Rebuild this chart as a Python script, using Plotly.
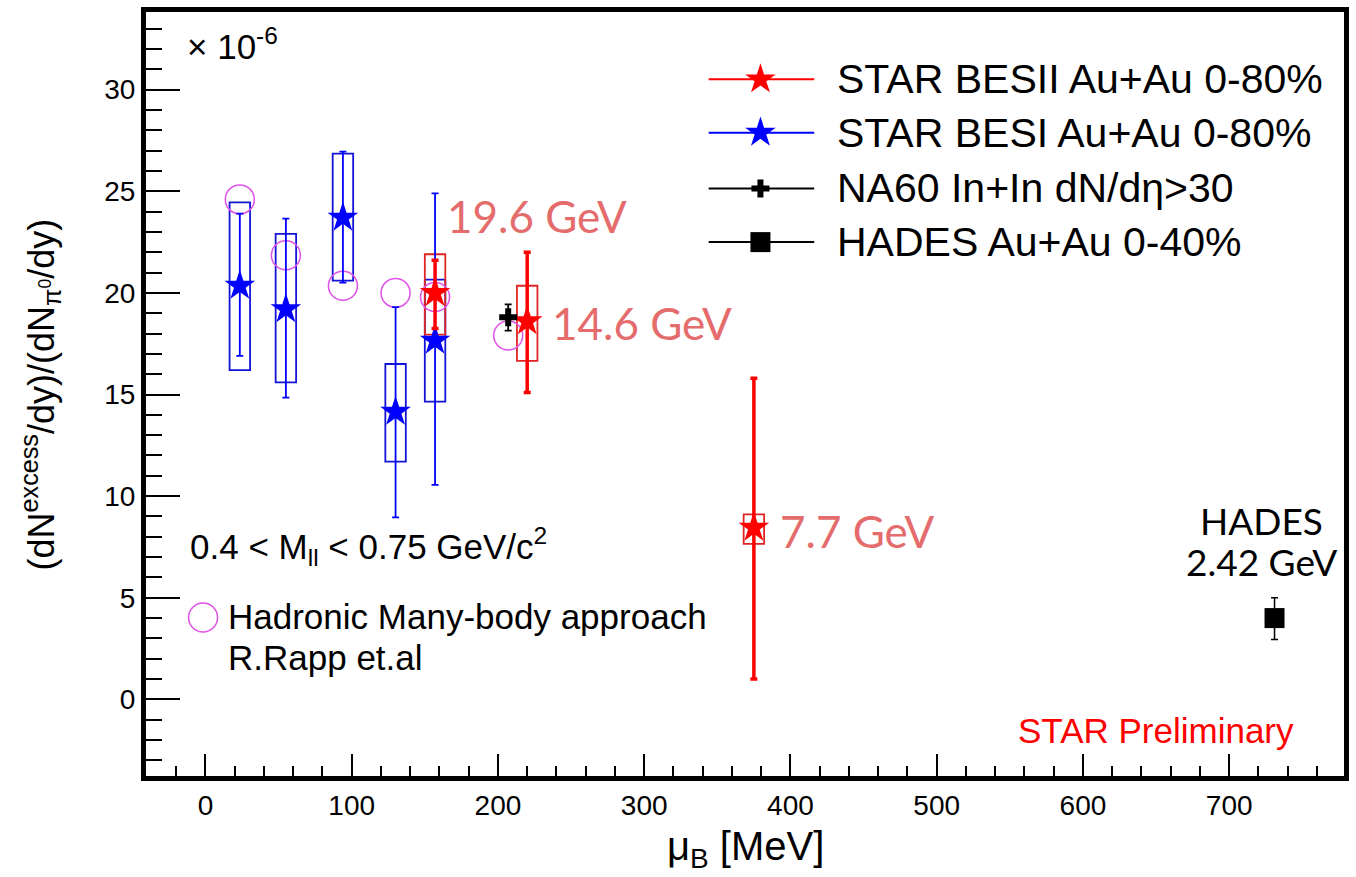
import plotly.graph_objects as go

# ---------------------------------------------------------------------------
# Dielectron excess yield (0.4 < M_ll < 0.75 GeV/c^2) normalised by pi0 yield,
# versus baryon chemical potential mu_B.  Values in units of 1e-6.
# ---------------------------------------------------------------------------

# STAR BES-II Au+Au 0-80%
besII_mu = [157, 220, 375]
besII_val = [20.0, 18.6, 8.45]
besII_stat_hi = [21.6, 22.0, 15.8]
besII_stat_lo = [18.25, 15.1, 1.0]
besII_sys_hi = [21.9, 20.35, 9.1]
besII_sys_lo = [17.95, 16.65, 7.65]
besII_energy = ["19.6 GeV", "14.6 GeV", "7.7 GeV"]

# STAR BES-I Au+Au 0-80%
besI_mu = [23.5, 55, 94, 130, 157]
besI_val = [20.35, 19.2, 23.7, 14.15, 17.65]
besI_stat_hi = [23.9, 23.65, 26.95, 19.3, 24.9]
besI_stat_lo = [16.9, 14.85, 20.5, 8.95, 10.55]
besI_sys_hi = [24.45, 22.9, 26.85, 16.5, 20.65]
besI_sys_lo = [16.2, 15.6, 20.6, 11.7, 14.65]

# NA60 In+In dN/deta > 30
na60_mu = [207]
na60_val = [18.8]
na60_hi = [19.43]
na60_lo = [18.14]

# HADES Au+Au 0-40%, 2.42 GeV
hades_mu = [731]
hades_val = [4.0]
hades_hi = [5.0]
hades_lo = [2.95]

# Hadronic many-body calculation (R. Rapp et al.)
rapp_mu = [23.5, 55, 94, 130, 157, 207]
rapp_val = [24.6, 21.85, 20.35, 20.0, 19.8, 17.9]

x_tick_vals = [0, 100, 200, 300, 400, 500, 600, 700]
y_tick_vals = [0, 5, 10, 15, 20, 25, 30]

# ---------------------------------------------------------------------------
# styling
# ---------------------------------------------------------------------------
W, H = 1356, 877
PL, PR, PT, PB = 146, 1349, 8, 776          # plot-area edges in pixels
X_RANGE = [-40.65, 778.5]
Y_RANGE = [-3.77, 33.82]
SYS_HALF = 7.0                              # half width of systematic boxes

RED = "#ff0000"
BLUE = "#0000ff"
MAGENTA = "#e052e8"
SALMON = "#e46c6c"
SANS = "Liberation Sans, Arial, Helvetica, sans-serif"
LATO = "Lato, sans-serif"


def px(x):
    return (x - PL) / (PR - PL)


def py(y):
    return (PB - y) / (PB - PT)


def errs(val, hi, lo):
    return [h - v for v, h in zip(val, hi)], [v - l for v, l in zip(val, lo)]


fig = go.Figure()

# model circles
fig.add_trace(go.Scatter(
    x=rapp_mu, y=rapp_val, mode="markers",
    marker=dict(symbol="circle-open", size=29, color=MAGENTA, line=dict(width=1.5, color=MAGENTA)),
    showlegend=False, cliponaxis=False))

# BES-I
up, dn = errs(besI_val, besI_stat_hi, besI_stat_lo)
fig.add_trace(go.Scatter(
    x=besI_mu, y=besI_val, mode="markers",
    marker=dict(symbol="star", size=23, color=BLUE, line=dict(width=0)),
    error_y=dict(type="data", array=up, arrayminus=dn, color=BLUE, thickness=1.8, width=3.5),
    showlegend=False))

# BES-II
up, dn = errs(besII_val, besII_stat_hi, besII_stat_lo)
fig.add_trace(go.Scatter(
    x=besII_mu, y=besII_val, mode="markers",
    marker=dict(symbol="star", size=23, color=RED, line=dict(width=0)),
    error_y=dict(type="data", array=up, arrayminus=dn, color=RED, thickness=3.5, width=3.5),
    showlegend=False))

# NA60
up, dn = errs(na60_val, na60_hi, na60_lo)
fig.add_trace(go.Scatter(
    x=na60_mu, y=na60_val, mode="markers",
    marker=dict(symbol="cross", size=15, color="black", line=dict(width=0)),
    error_y=dict(type="data", array=up, arrayminus=dn, color="black", thickness=1.8, width=3.5),
    showlegend=False))

# HADES
up, dn = errs(hades_val, hades_hi, hades_lo)
fig.add_trace(go.Scatter(
    x=hades_mu, y=hades_val, mode="markers",
    marker=dict(symbol="square", size=20, color="black", line=dict(width=0)),
    error_y=dict(type="data", array=up, arrayminus=dn, color="black", thickness=1.5, width=3.5),
    showlegend=False))

# systematic boxes
shapes = []
for mu, lo, hi in zip(besI_mu, besI_sys_lo, besI_sys_hi):
    shapes.append(dict(type="rect", xref="x", yref="y", x0=mu - SYS_HALF, x1=mu + SYS_HALF,
                       y0=lo, y1=hi, line=dict(color="#1414d8", width=1.8), layer="below"))
for mu, lo, hi in zip(besII_mu, besII_sys_lo, besII_sys_hi):
    shapes.append(dict(type="rect", xref="x", yref="y", x0=mu - SYS_HALF, x1=mu + SYS_HALF,
                       y0=lo, y1=hi, line=dict(color="#e02424", width=1.8), layer="below"))

# ---------------------------------------------------------------------------
# legend (drawn by hand: long sample lines, ROOT style)
# ---------------------------------------------------------------------------
legend_names = ["STAR BESII Au+Au 0-80%", "STAR BESI Au+Au 0-80%",
                "NA60 In+In dN/dη>30", "HADES Au+Au 0-40%"]
legend_colors = [RED, BLUE, "black", "black"]
legend_symbols = ["star", "star", "cross", "square"]
legend_sizes = [23, 23, 15, 20]
legend_rows = [75.7, 129.3, 185.3, 239.3]
LEG_X0, LEG_X1, LEG_MX, LEG_TX = 711, 817, 763, 838

for name, col, sym, sz, row in zip(legend_names, legend_colors, legend_symbols, legend_sizes, legend_rows):
    shapes.append(dict(type="line", xref="paper", yref="paper", x0=px(LEG_X0), x1=px(LEG_X1),
                       y0=py(row), y1=py(row), line=dict(color=col, width=2), layer="above"))
    fig.add_trace(go.Scatter(
        x=[px(LEG_MX)], y=[py(row)], xaxis="x2", yaxis="y2", mode="markers",
        marker=dict(symbol=sym, size=sz, color=col, line=dict(width=0)),
        showlegend=False, cliponaxis=False, hoverinfo="skip"))

# model legend marker
fig.add_trace(go.Scatter(
    x=[px(203.3)], y=[py(616.7)], xaxis="x2", yaxis="y2", mode="markers",
    marker=dict(symbol="circle-open", size=29, color=MAGENTA, line=dict(width=1.5, color=MAGENTA)),
    showlegend=False, cliponaxis=False, hoverinfo="skip"))

annotations = []


def text(x, y, s, size, color="black", family=SANS, xanchor="left", yanchor="middle", **kw):
    annotations.append(dict(x=x, y=y, xref="paper", yref="paper", text=s, showarrow=False,
                            xanchor=xanchor, yanchor=yanchor,
                            font=dict(size=size, color=color, family=family), **kw))


for name, row in zip(legend_names, legend_rows):
    text(px(LEG_TX), py(row), name, 41)

# beam energy labels next to the BES-II points
label_pos = [(164, 23.8), (235.5, 18.5), (391.5, 8.3)]
for s, (lx, ly) in zip(besII_energy, label_pos):
    annotations.append(dict(x=lx, y=ly, xref="x", yref="y", text=s, showarrow=False,
                            xanchor="left", yanchor="middle",
                            font=dict(size=44, color=SALMON, family=LATO)))

annotations.append(dict(x=722, y=8.8, xref="x", yref="y", text="HADES", showarrow=False,
                        xanchor="center", yanchor="middle", font=dict(size=37, color="black", family=LATO)))
annotations.append(dict(x=722, y=6.8, xref="x", yref="y", text="2.42 GeV", showarrow=False,
                        xanchor="center", yanchor="middle", font=dict(size=37, color="black", family=LATO)))

text(px(188), py(545), "0.4 &lt; M<sub>ll</sub> &lt; 0.75 GeV/c<sup>2</sup>", 35)
text(px(226), py(615.5), "Hadronic Many-body approach", 35)
text(px(226), py(656.7), "R.Rapp et.al", 35)
text(px(1020), py(730), "STAR Preliminary", 35, color=RED)
text(px(185), py(40), "× 10<sup>-6</sup>", 35)

# axis titles
text(px(40), 0.5, "(dN<sup>excess</sup>/dy)/(dN<sub>π<sup>0</sup></sub>/dy)", 36,
     xanchor="center", textangle=-90)
text(px(748), py(849), "μ<sub>B</sub> [MeV]", 40, xanchor="center")

axis_common = dict(showline=True, linewidth=5, linecolor="black", mirror=True,
                   showgrid=False, zeroline=False, ticks="inside", tickcolor="black",
                   tickwidth=1.5, tickfont=dict(size=28, family=SANS, color="black"))

fig.update_layout(
    width=W, height=H,
    margin=dict(l=PL, r=W - PR, t=PT, b=H - PB, pad=0),
    paper_bgcolor="white", plot_bgcolor="white",
    showlegend=False,
    shapes=shapes, annotations=annotations,
    xaxis=dict(range=X_RANGE, tickvals=x_tick_vals, ticklen=22,
               minor=dict(ticks="inside", ticklen=10, dtick=20, tick0=0, tickcolor="black", tickwidth=1.5),
               **axis_common),
    yaxis=dict(range=Y_RANGE, tickvals=y_tick_vals, ticklen=34,
               minor=dict(ticks="inside", ticklen=16, dtick=1, tick0=0, tickcolor="black", tickwidth=1.5),
               **axis_common),
    xaxis2=dict(overlaying="x", range=[0, 1], visible=False, fixedrange=True),
    yaxis2=dict(overlaying="y", range=[0, 1], visible=False, fixedrange=True),
)

fig.write_html("out.html")
